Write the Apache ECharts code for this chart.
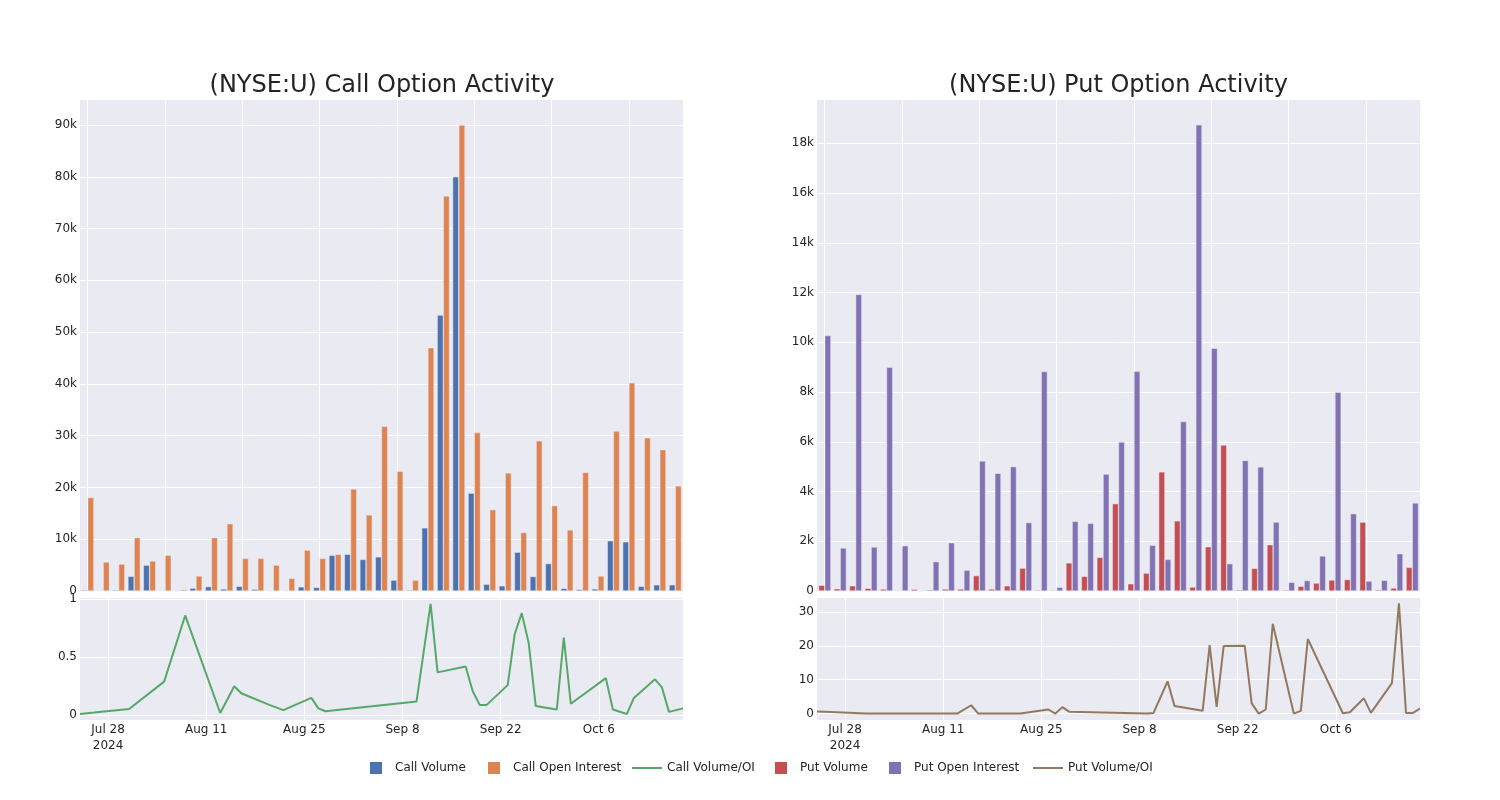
<!DOCTYPE html>
<html>
<head>
<meta charset="utf-8">
<script src="https://cdn.jsdelivr.net/npm/echarts@6/dist/echarts.min.js"></script>
<style>
  html, body { margin: 0; padding: 0; background: #ffffff; }
  #chart { width: 1500px; height: 800px; }
</style>
</head>
<body>
<div id="chart"></div>
<script>
// ---------------- data ----------------
const dates = ['2024-07-24','2024-07-26','2024-07-31','2024-08-05','2024-08-08','2024-08-13','2024-08-15','2024-08-16','2024-08-20','2024-08-22','2024-08-26','2024-08-27','2024-08-28','2024-08-29','2024-09-09','2024-09-10','2024-09-12','2024-09-13','2024-09-17','2024-09-18','2024-09-19','2024-09-20','2024-09-23','2024-09-24','2024-09-25','2024-09-26','2024-09-27','2024-09-30','2024-10-01','2024-10-02','2024-10-07','2024-10-08','2024-10-10','2024-10-11','2024-10-14','2024-10-15','2024-10-16','2024-10-17','2024-10-18'];

const callVolume = [200,100,200,2850,5000,50,65,550,850,400,900,350,60,90,800,700,6900,7100,6100,6600,2100,190,12200,53300,80000,18900,1300,1000,7500,2800,5300,500,300,400,9700,9500,900,1200,1200];
const callOI = [18050,5600,5200,10300,5800,6900,260,2900,10300,13000,6300,6300,5000,2450,7900,6300,7100,19700,14700,31800,23100,2100,47000,76300,90000,30600,15700,22800,11300,29000,16500,11800,22900,2900,30900,40200,29600,27300,20300];
const callRatio = [0.012,0.024,0.055,0.29,0.86,0.02,0.25,0.19,0.09,0.045,0.15,0.06,0.035,0.042,0.113,0.12,0.96,0.37,0.42,0.21,0.09,0.09,0.26,0.70,0.88,0.62,0.08,0.05,0.67,0.10,0.32,0.05,0.012,0.15,0.31,0.24,0.03,0.045,0.06];

const putVolume = [230,90,210,110,80,10,70,50,80,80,620,80,210,920,40,30,1130,590,1350,3510,290,720,4790,2820,160,1780,5870,50,910,1860,40,190,320,440,460,2770,50,120,950];
const putOI = [10270,1730,11920,1770,9000,1820,10,1180,1940,840,5230,4730,5000,2750,8820,150,2800,2720,4700,5990,8830,1840,1270,6810,18740,9760,1100,5250,4990,2770,350,420,1410,7990,3110,400,430,1500,3540];
const putRatio = [0.6,0.43,0,0,0,0,2.45,0,0,0,1.2,0,1.9,0.5,0,0.2,9.5,2.2,0.8,20.2,2.0,19.9,20.0,3.0,0,1.2,26.5,0,0.8,22.0,0.1,0.4,4.5,0.2,9.0,32.5,0.2,0.2,1.5];

const callBarTicks = [0,10000,20000,30000,40000,50000,60000,70000,80000,90000];
const putBarTicks = [0,2000,4000,6000,8000,10000,12000,14000,16000,18000];
const callRatioTicks = [0,0.5,1];
const putRatioTicks = [0,10,20,30];
const dateTicks = ['2024-07-28','2024-08-11','2024-08-25','2024-09-08','2024-09-22','2024-10-06'];

// ---------------- helpers ----------------
const ts = s => { const p = s.split('-').map(Number); return new Date(p[0], p[1]-1, p[2]).getTime(); };
const MONTHS = ['Jan','Feb','Mar','Apr','May','Jun','Jul','Aug','Sep','Oct','Nov','Dec'];
const FONT = 'DejaVu Sans';
const TXT = '#242424';
const BG = '#EAEAF2';
const kFmt = v => v === 0 ? '0' : (v / 1000) + 'k';
const firstTick = ts(dateTicks[0]);

const C = { cv:'#4C72B0', coi:'#DD8452', cr:'#55A868', pv:'#C44E52', poi:'#8172B3', pr:'#937860' };

function barX(grid) {
  return {
    type: 'category', gridIndex: grid, data: dates, boundaryGap: true,
    axisLine: {show:false}, axisTick: {show:false}, axisLabel: {show:false},
    splitLine: {show:true, interval: 4, alignWithLabel: true, lineStyle:{color:'#ffffff', width:1}}
  };
}
function timeX(grid) {
  const tickVals = dateTicks.map(ts);
  return {
    type: 'value', gridIndex: grid, min: ts(dates[0]), max: ts(dates[dates.length-1]),
    axisLine: {show:false},
    axisTick: {show:false, customValues: tickVals},
    axisLabel: {
      customValues: tickVals, margin: 2, color: TXT, fontSize: 12, fontFamily: FONT, lineHeight: 16,
      hideOverlap: false,
      formatter: (v) => {
        const d = new Date(v);
        const s = MONTHS[d.getMonth()] + ' ' + d.getDate();
        return v === firstTick ? s + '\n' + d.getFullYear() : s;
      }
    },
    splitLine: {show:true, lineStyle:{color:'#ffffff', width:1}}
  };
}
function valY(grid, min, max, ticks, fmt) {
  return {
    type: 'value', gridIndex: grid, min: min, max: max,
    axisLine: {show:false},
    axisTick: {show:false, customValues: ticks},
    axisLabel: {customValues: ticks, margin: 3, color: TXT, fontSize: 12, fontFamily: FONT, formatter: fmt},
    splitLine: {show:true, lineStyle:{color:'#ffffff', width:1}}
  };
}

const gridBase = {show:true, backgroundColor: BG, borderWidth: 0, containLabel: false};
const barStyle = col => ({color: col, borderColor: BG, borderWidth: 0.5});

function sqLegend(name, left) {
  return {orient:'horizontal', top: 762, padding: 0, left, itemWidth: 12, itemHeight: 12,
    data:[{name, icon:'rect'}], itemStyle: {borderWidth: 0},
    textStyle: {color: TXT, fontSize: 12, fontFamily: FONT, padding: [0,0,0,8]}};
}
function lnLegend(name, left) {
  return {orient:'horizontal', top: 762, padding: 0, left, itemWidth: 30, itemHeight: 2,
    data:[{name, icon:'rect'}], itemStyle: {borderWidth: 0},
    textStyle: {color: TXT, fontSize: 12, fontFamily: FONT}};
}

const option = {
  animation: false,
  backgroundColor: '#ffffff',
  textStyle: {fontFamily: FONT},
  title: [
    {text: '(NYSE:U) Call Option Activity', left: 377, textAlign: 'center', top: 69,
     textStyle: {fontSize: 24, fontWeight: 'normal', color: TXT, fontFamily: FONT}},
    {text: '(NYSE:U) Put Option Activity', left: 1113.5, textAlign: 'center', top: 69,
     textStyle: {fontSize: 24, fontWeight: 'normal', color: TXT, fontFamily: FONT}}
  ],
  legend: [
    sqLegend('Call Volume', 370),
    sqLegend('Call Open Interest', 488),
    lnLegend('Call Volume/OI', 632),
    sqLegend('Put Volume', 775),
    sqLegend('Put Open Interest', 889),
    lnLegend('Put Volume/OI', 1033)
  ],
  grid: [
    Object.assign({left: 80, top: 100, width: 603, height: 491}, gridBase),
    Object.assign({left: 80, top: 598, width: 603, height: 122}, gridBase),
    Object.assign({left: 817, top: 100, width: 603, height: 491}, gridBase),
    Object.assign({left: 817, top: 598, width: 603, height: 122}, gridBase)
  ],
  xAxis: [barX(0), timeX(1), barX(2), timeX(3)],
  yAxis: [
    valY(0, 0, 94830, callBarTicks, kFmt),
    valY(1, -0.04, 1.01, callRatioTicks, v => String(v)),
    valY(2, 0, 19740, putBarTicks, kFmt),
    valY(3, -1.9, 34.1, putRatioTicks, v => String(v))
  ],
  series: [
    {name:'Call Volume', type:'bar', xAxisIndex:0, yAxisIndex:0, data: callVolume,
     itemStyle: barStyle(C.cv), barCategoryGap:'20%', barGap:'0%', z: 3},
    {name:'Call Open Interest', type:'bar', xAxisIndex:0, yAxisIndex:0, data: callOI,
     itemStyle: barStyle(C.coi), barCategoryGap:'20%', barGap:'0%', z: 3},
    {name:'Call Volume/OI', type:'line', xAxisIndex:1, yAxisIndex:1,
     data: dates.map((d,i) => [ts(d), callRatio[i]]), showSymbol:false, symbol:'none',
     lineStyle:{color:C.cr, width:2}, itemStyle:{color:C.cr}},
    {name:'Put Volume', type:'bar', xAxisIndex:2, yAxisIndex:2, data: putVolume,
     itemStyle: barStyle(C.pv), barCategoryGap:'20%', barGap:'0%', z: 3},
    {name:'Put Open Interest', type:'bar', xAxisIndex:2, yAxisIndex:2, data: putOI,
     itemStyle: barStyle(C.poi), barCategoryGap:'20%', barGap:'0%', z: 3},
    {name:'Put Volume/OI', type:'line', xAxisIndex:3, yAxisIndex:3,
     data: dates.map((d,i) => [ts(d), putRatio[i]]), showSymbol:false, symbol:'none',
     lineStyle:{color:C.pr, width:2}, itemStyle:{color:C.pr}}
  ]
};

const chart = echarts.init(document.getElementById('chart'), null, {renderer: 'canvas'});
chart.setOption(option);
</script>
</body>
</html>
